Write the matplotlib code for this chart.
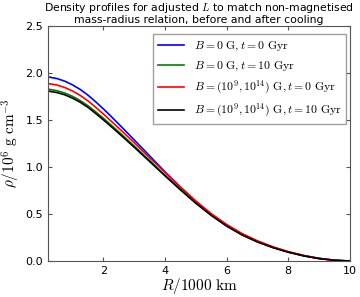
import matplotlib
matplotlib.use("Agg")
import matplotlib.pyplot as plt
import numpy as np

plt.rcParams['mathtext.fontset'] = 'cm'
plt.rcParams['font.family'] = ['DejaVu Sans']

R = [0.2, 0.5, 0.75, 1.0, 1.25, 1.5, 1.75, 2.0, 2.25, 2.5, 3.0, 3.5, 4.0, 4.5, 5.0, 5.5, 6.0, 6.5, 7.0, 7.5, 8.0, 8.5, 9.0, 9.5, 10.0]
rho_B0_t0 = [1.96, 1.942, 1.914, 1.875, 1.826, 1.766, 1.695, 1.62, 1.54, 1.458, 1.29, 1.12, 0.95, 0.785, 0.63, 0.495, 0.38, 0.285, 0.21, 0.148, 0.098, 0.058, 0.028, 0.009, 0.0]
rho_B0_t10 = [1.83, 1.813, 1.788, 1.753, 1.708, 1.653, 1.588, 1.52, 1.448, 1.375, 1.225, 1.07, 0.915, 0.765, 0.62, 0.49, 0.375, 0.28, 0.205, 0.145, 0.095, 0.056, 0.027, 0.008, 0.0]
rho_B_t0 = [1.89, 1.873, 1.847, 1.81, 1.763, 1.705, 1.637, 1.565, 1.49, 1.415, 1.26, 1.10, 0.945, 0.79, 0.64, 0.505, 0.39, 0.293, 0.215, 0.152, 0.10, 0.06, 0.029, 0.009, 0.0]
rho_B_t10 = [1.81, 1.793, 1.769, 1.734, 1.69, 1.636, 1.571, 1.503, 1.432, 1.36, 1.212, 1.06, 0.907, 0.758, 0.615, 0.486, 0.372, 0.278, 0.203, 0.143, 0.094, 0.055, 0.026, 0.008, 0.0]

labels = [r'$B=0\ \mathrm{G}, t=0\ \mathrm{Gyr}$',
          r'$B=0\ \mathrm{G}, t=10\ \mathrm{Gyr}$',
          r'$B=(10^9, 10^{14})\ \mathrm{G}, t=0\ \mathrm{Gyr}$',
          r'$B=(10^9, 10^{14})\ \mathrm{G}, t=10\ \mathrm{Gyr}$']
colors = ['#0000ff', '#008000', '#ff0000', '#000000']

fig = plt.figure(figsize=(3.6, 2.97), dpi=100)
ax = fig.add_axes([0.133, 0.121, 0.839, 0.791])
for y, lab, c in zip([rho_B0_t0, rho_B0_t10, rho_B_t0, rho_B_t10], labels, colors):
    ax.plot(R, y, color=c, lw=1.2, label=lab)

ax.set_xlim(0.2, 10)
ax.set_ylim(0, 2.5)
ax.set_xticks([2, 4, 6, 8, 10])
ax.set_yticks([0.0, 0.5, 1.0, 1.5, 2.0, 2.5])
ax.tick_params(direction='in', top=True, right=True, labelsize=8, length=3, color='#555555')
for s in ax.spines.values():
    s.set_color('#555555')
ax.set_xlabel(r'$R/1000\ \mathrm{km}$', fontsize=11, labelpad=0)
ax.set_ylabel(r'$\rho/10^6\ \mathrm{g\ cm}^{-3}$', fontsize=11, labelpad=2)
ax.set_title('Density profiles for adjusted $L$ to match non-magnetised\nmass-radius relation, before and after cooling',
             fontsize=7.8, pad=2, linespacing=1.0)
leg = ax.legend(loc='upper right', bbox_to_anchor=(0.988, 0.966), borderaxespad=0,
                fontsize=8.5, fancybox=False, edgecolor='#888888', handlelength=2.2)
leg.get_frame().set_linewidth(1.0)
fig.savefig('out.png', dpi=100)
